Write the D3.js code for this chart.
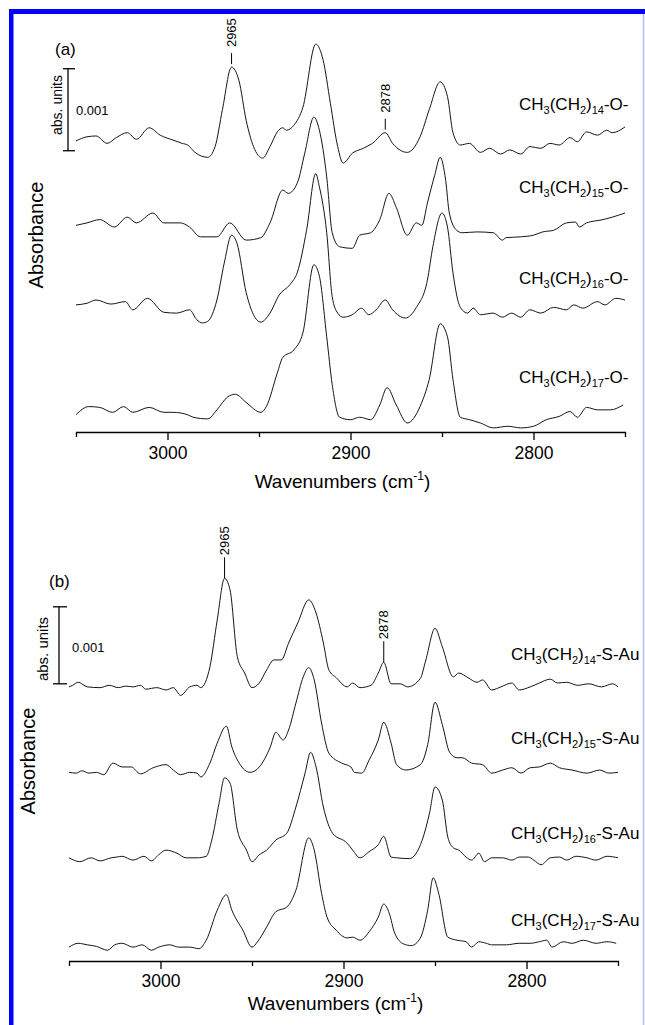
<!DOCTYPE html>
<html><head><meta charset="utf-8">
<script src="https://cdn.jsdelivr.net/npm/d3@7"></script>
<style>html,body{margin:0;padding:0;background:#fff;} svg{display:block;font-family:"Liberation Sans",Arial,Helvetica,sans-serif;}</style>
</head><body><svg id="c" width="645" height="1025"></svg>
<script>
// ---------- data ----------
const xDomain = [3050, 2750];
const majorTicks = [3000, 2900, 2800];
const minorTicks = [2950, 2850];
const chainLengths = ["14", "15", "16", "17"];
const headgroupA = "-O-";
const headgroupB = "-S-Au";
const scaleBarLabel = "0.001";
const xTitle = "Wavenumbers (cm";
const yTitle = "Absorbance";
// vertical offsets of the stacked spectra (units of 0.001 absorbance)
const offsetsA = [3.5, 2.5, 1.5, 0.2];
const offsetsB = [3.55, 2.5, 1.35, 0.2];
// peak annotations: [wavenumber, label]
const peakMarksA = [[2965, "2965"], [2881, "2878"]];
const peakMarksB = [[2965, "2965"], [2878, "2878"]];

// spectra: [wavenumber (cm-1), absorbance (x 0.001)]
const a14 = [[3050,0.05],[3044,0.10],[3039,0.11],[3033,0.02],[3028,0.09],[3022,0.15],[3017,0.07],[3010,0.21],[3004,0.12],[2997,0.06],[2992,0.02],[2989,0.00],[2985,-0.09],[2978,-0.15],[2974,-0.02],[2970,0.43],[2965,0.95],[2961,0.79],[2957,0.30],[2953,-0.02],[2948,-0.16],[2944,-0.02],[2940,0.16],[2937,0.21],[2935,0.18],[2931,0.24],[2926,0.46],[2919,1.23],[2915,1.04],[2911,0.51],[2907,-0.02],[2904,-0.22],[2899,-0.10],[2893,-0.04],[2888,0.02],[2881,0.15],[2877,0.02],[2869,-0.09],[2862,0.10],[2857,0.43],[2851,0.77],[2847,0.59],[2844,0.15],[2840,0.00],[2835,0.02],[2829,-0.09],[2824,-0.04],[2818,-0.11],[2813,-0.06],[2807,-0.11],[2802,-0.02],[2796,-0.04],[2791,0.02],[2786,0.00],[2780,0.09],[2776,0.04],[2771,0.16],[2765,0.12],[2760,0.18],[2757,0.15],[2750,0.22]];
const a15 = [[3050,0.02],[3044,0.05],[3037,0.09],[3029,0.00],[3022,0.12],[3017,0.05],[3008,0.17],[3002,0.05],[2993,0.05],[2988,0.00],[2982,-0.12],[2973,-0.12],[2966,0.05],[2957,-0.16],[2949,-0.13],[2944,0.05],[2937,0.45],[2934,0.41],[2929,0.54],[2925,0.90],[2920,1.34],[2917,1.18],[2913,0.61],[2910,-0.07],[2906,-0.24],[2899,-0.26],[2895,-0.10],[2889,-0.07],[2884,0.09],[2879,0.41],[2875,0.24],[2869,-0.10],[2864,0.05],[2861,0.02],[2858,0.29],[2854,0.63],[2851,0.85],[2848,0.57],[2846,0.17],[2842,-0.04],[2839,-0.07],[2831,-0.06],[2822,-0.07],[2817,-0.16],[2815,-0.13],[2807,-0.12],[2800,-0.10],[2795,-0.06],[2789,-0.04],[2782,0.05],[2777,0.06],[2775,0.00],[2771,0.05],[2762,0.09],[2757,0.12],[2750,0.17]];
const a16 = [[3050,0.05],[3044,0.07],[3039,0.11],[3031,0.06],[3023,0.09],[3019,-0.01],[3011,0.13],[3002,-0.04],[2995,-0.05],[2988,-0.01],[2984,-0.13],[2981,-0.17],[2978,-0.15],[2973,0.11],[2969,0.56],[2965,0.90],[2962,0.80],[2957,0.20],[2949,-0.16],[2944,-0.05],[2939,0.17],[2933,0.30],[2929,0.45],[2924,0.96],[2919,1.65],[2917,1.49],[2913,0.93],[2910,0.15],[2907,-0.05],[2904,-0.10],[2899,-0.07],[2894,0.01],[2890,-0.07],[2886,-0.01],[2881,0.11],[2877,-0.01],[2870,-0.11],[2864,0.02],[2858,0.35],[2855,0.76],[2850,1.17],[2847,1.00],[2844,0.44],[2840,0.02],[2836,-0.05],[2833,0.01],[2829,-0.07],[2822,-0.05],[2817,-0.10],[2812,-0.05],[2807,-0.10],[2802,-0.01],[2796,-0.05],[2789,0.02],[2782,-0.01],[2778,0.05],[2773,0.01],[2765,0.09],[2761,0.05],[2755,0.13],[2750,0.11]];
const a17 = [[3050,0.01],[3043,0.11],[3037,0.10],[3030,0.04],[3024,0.11],[3019,0.04],[3010,0.10],[3002,0.04],[2997,0.04],[2989,0.01],[2986,-0.02],[2978,-0.04],[2973,0.07],[2967,0.23],[2963,0.26],[2957,0.16],[2949,0.04],[2946,0.11],[2940,0.52],[2937,0.71],[2931,0.80],[2926,1.01],[2920,1.84],[2917,1.70],[2913,0.96],[2910,0.38],[2906,-0.02],[2900,-0.05],[2895,-0.02],[2889,-0.05],[2884,0.13],[2880,0.34],[2875,0.13],[2869,-0.09],[2862,0.11],[2857,0.44],[2851,1.12],[2847,0.96],[2844,0.44],[2840,-0.02],[2835,-0.05],[2829,-0.09],[2822,-0.15],[2814,-0.13],[2807,-0.15],[2800,-0.13],[2793,-0.05],[2786,-0.01],[2780,0.05],[2776,-0.02],[2771,0.10],[2765,0.07],[2758,0.07],[2751,0.13]];
const b14 = [[3050,0.01],[3048,0.03],[3045,0.07],[3040,0.01],[3033,0.00],[3028,0.03],[3023,0.00],[3019,0.02],[3015,0.01],[3011,0.03],[3008,-0.02],[3002,0.00],[2997,-0.03],[2993,0.00],[2989,-0.10],[2984,0.01],[2980,0.03],[2978,0.00],[2973,0.27],[2969,0.88],[2965,1.42],[2962,1.27],[2958,0.40],[2954,0.19],[2950,0.00],[2946,0.06],[2942,0.23],[2938,0.36],[2934,0.36],[2930,0.58],[2925,0.84],[2919,1.14],[2915,0.97],[2911,0.58],[2908,0.23],[2904,0.13],[2898,0.01],[2895,0.06],[2891,0.00],[2885,0.03],[2881,0.19],[2878,0.33],[2874,0.05],[2869,0.05],[2865,0.01],[2858,0.12],[2855,0.36],[2850,0.77],[2846,0.53],[2840,0.14],[2837,0.19],[2832,0.13],[2827,0.07],[2824,0.10],[2819,-0.03],[2814,0.01],[2808,0.06],[2804,-0.03],[2798,0.01],[2793,0.06],[2787,0.11],[2783,0.06],[2778,0.07],[2772,0.03],[2766,0.05],[2759,0.01],[2753,0.05],[2750,0.01]];
const b15 = [[3050,-0.05],[3046,-0.06],[3043,-0.03],[3039,-0.06],[3035,-0.05],[3031,-0.08],[3026,0.07],[3021,0.02],[3016,0.02],[3011,-0.07],[3004,0.01],[2997,0.05],[2993,-0.02],[2989,-0.08],[2984,-0.05],[2980,-0.06],[2978,-0.11],[2973,0.07],[2969,0.33],[2964,0.55],[2961,0.28],[2957,0.07],[2951,-0.05],[2946,0.02],[2940,0.28],[2937,0.47],[2933,0.37],[2930,0.50],[2926,0.85],[2922,1.19],[2919,1.31],[2916,1.15],[2912,0.59],[2908,0.20],[2901,0.07],[2896,0.02],[2894,-0.05],[2890,-0.06],[2886,0.11],[2881,0.37],[2878,0.60],[2874,0.33],[2871,0.05],[2866,-0.02],[2858,0.05],[2854,0.31],[2850,0.86],[2846,0.57],[2842,0.21],[2838,0.14],[2835,0.14],[2830,0.07],[2824,0.05],[2819,-0.06],[2813,-0.02],[2808,0.01],[2803,-0.06],[2798,0.01],[2793,0.02],[2787,0.07],[2782,0.01],[2775,-0.02],[2767,-0.06],[2760,-0.02],[2755,-0.06],[2750,-0.05]];
const b16 = [[3050,-0.01],[3044,-0.06],[3038,-0.01],[3033,-0.05],[3027,-0.01],[3024,0.00],[3021,0.01],[3015,-0.04],[3009,0.01],[3005,-0.05],[3001,0.03],[2997,0.09],[2991,0.05],[2986,-0.01],[2980,-0.01],[2975,0.01],[2972,0.22],[2968,0.70],[2965,1.03],[2962,0.96],[2958,0.35],[2953,0.09],[2950,-0.06],[2946,0.03],[2942,0.09],[2937,0.22],[2931,0.31],[2926,0.65],[2921,1.09],[2918,1.36],[2915,1.17],[2911,0.65],[2906,0.31],[2898,0.18],[2895,0.09],[2891,-0.01],[2886,0.07],[2881,0.16],[2878,0.27],[2874,0.00],[2871,-0.01],[2864,-0.02],[2857,0.22],[2853,0.57],[2850,0.91],[2846,0.74],[2843,0.26],[2840,0.12],[2837,0.09],[2833,0.00],[2830,-0.04],[2826,0.05],[2823,-0.06],[2819,-0.01],[2813,-0.01],[2808,-0.04],[2804,0.00],[2799,0.00],[2796,-0.04],[2792,-0.10],[2787,-0.01],[2782,0.00],[2778,-0.04],[2773,0.01],[2767,-0.01],[2762,-0.04],[2756,0.01],[2750,-0.01]];
const b17 = [[3050,-0.02],[3045,0.03],[3040,0.01],[3035,-0.01],[3029,-0.06],[3025,0.01],[3021,0.03],[3015,-0.02],[3010,0.01],[3005,-0.06],[3001,-0.02],[2995,0.01],[2990,-0.02],[2984,-0.02],[2979,-0.04],[2975,0.07],[2969,0.46],[2964,0.66],[2961,0.46],[2955,0.20],[2950,-0.02],[2947,0.05],[2942,0.24],[2937,0.44],[2931,0.50],[2926,0.72],[2919,1.40],[2916,1.24],[2912,0.68],[2909,0.37],[2904,0.20],[2898,0.10],[2895,0.11],[2891,0.07],[2886,0.18],[2881,0.37],[2878,0.54],[2875,0.42],[2872,0.16],[2867,0.02],[2863,0.00],[2858,0.10],[2854,0.46],[2851,0.88],[2848,0.68],[2843,0.11],[2838,0.07],[2833,0.05],[2830,-0.02],[2826,0.05],[2822,0.03],[2819,0.01],[2811,0.01],[2804,0.03],[2798,0.03],[2793,0.05],[2789,0.07],[2786,-0.02],[2780,0.05],[2775,0.03],[2769,0.07],[2762,0.03],[2756,0.05],[2751,0.03]];

// ---------- layout ----------
const panels = [
  {tag:"(a)", tagX:55, tagY:55, xr:[76,625], axisY:432, k:82, offsets:offsetsA,
   traces:[a14,a15,a16,a17], head:headgroupA, labelX:519, labelY:[110,193,284,383],
   marks:peakMarksA, markGap:3, markLen:11, markText:20,
   barX:68, barFrom:-0.07, barCapL:5, barCapR:7, barLabelX:76, barLabelY:115,
   unitsX:62, unitsY:105, unitsFont:14, absX:43, absY:235, tickPad:7, titleY:488},
  {tag:"(b)", tagX:49, tagY:587, xr:[69,618], axisY:961, k:77, offsets:offsetsB,
   traces:[b14,b15,b16,b17], head:headgroupB, labelX:511, labelY:[660,744,839,926],
   marks:peakMarksB, markGap:0, markLen:21, markText:23,
   barX:59, barFrom:0.05, barCapL:6, barCapR:8, barLabelX:72, barLabelY:652,
   unitsX:48, unitsY:649, unitsFont:15, absX:35, absY:761, tickPad:6, titleY:1010}
];

const svg = d3.select("#c");
svg.append("rect").attr("width",645).attr("height",1025).attr("fill","#fff");
// frame
svg.append("rect").attr("x",9).attr("y",9).attr("width",4.5).attr("height",1016).attr("fill","#0000ff");
svg.append("rect").attr("x",9).attr("y",9).attr("width",636).attr("height",5).attr("fill","#0000ff");
svg.append("line").attr("x1",643.5).attr("x2",643.5).attr("y1",14).attr("y2",1025)
   .attr("stroke","#b8b8ff").attr("stroke-width",1.5);

function chemLabel(t, n, head){
  t.append("tspan").text("CH");
  t.append("tspan").attr("font-size",11).attr("dy",4).text("3");
  t.append("tspan").attr("dy",-4).text("(CH");
  t.append("tspan").attr("font-size",11).attr("dy",4).text("2");
  t.append("tspan").attr("dy",-4).text(")");
  t.append("tspan").attr("font-size",11).attr("dy",4).text(n);
  t.append("tspan").attr("dy",-4).text(head);
}

panels.forEach(p => {
  const g = svg.append("g");
  const x = d3.scaleLinear().domain(xDomain).range(p.xr);
  const y = d3.scaleLinear().domain([0,1]).range([p.axisY, p.axisY - p.k]);
  const line = d3.line().x(d => x(d[0])).y(d => y(d[1])).curve(d3.curveMonotoneX);

  p.traces.forEach((tr, i) => {
    const off = p.offsets[i];
    g.append("path").datum(tr.map(d => [d[0], d[1] + off]))
      .attr("d", line).attr("fill","none").attr("stroke","#151515").attr("stroke-width",1);
    const t = g.append("text").attr("x", p.labelX).attr("y", p.labelY[i])
      .attr("font-size",17).attr("fill","#000");
    chemLabel(t, chainLengths[i], p.head);
  });

  // peak annotations on top trace
  p.marks.forEach(m => {
    const tr = p.traces[0];
    const pt = tr.reduce((a,b) => Math.abs(b[0]-m[0]) < Math.abs(a[0]-m[0]) ? b : a);
    const px = x(m[0]);
    const py = y(pt[1] + p.offsets[0]);
    g.append("line").attr("x1",px).attr("x2",px)
      .attr("y1",py - p.markGap).attr("y2",py - p.markGap - p.markLen)
      .attr("stroke","#000").attr("stroke-width",1);
    g.append("text").attr("transform",`translate(${px+4.7},${py - p.markText}) rotate(-90)`)
      .attr("font-size",13).attr("text-anchor","start").text(m[1]);
  });

  // tag
  g.append("text").attr("x",p.tagX).attr("y",p.tagY).attr("font-size",17).text(p.tag);

  // scale bar
  const yb0 = y(p.offsets[0] + p.barFrom), yb1 = y(p.offsets[0] + p.barFrom + 1);
  g.append("line").attr("x1",p.barX).attr("x2",p.barX).attr("y1",yb0).attr("y2",yb1).attr("stroke","#000").attr("stroke-width",1.3);
  [yb0,yb1].forEach(yy => g.append("line").attr("x1",p.barX-p.barCapL).attr("x2",p.barX+p.barCapR)
     .attr("y1",yy).attr("y2",yy).attr("stroke","#000").attr("stroke-width",1.3));
  g.append("text").attr("x",p.barLabelX).attr("y",p.barLabelY).attr("font-size",13).text(scaleBarLabel);
  g.append("text").attr("transform",`translate(${p.unitsX},${p.unitsY}) rotate(-90)`)
    .attr("text-anchor","middle").attr("font-size",p.unitsFont).text("abs. units");

  // y title
  g.append("text").attr("transform",`translate(${p.absX},${p.absY}) rotate(-90)`)
    .attr("text-anchor","middle").attr("font-size",20).text(yTitle);

  // x axis
  const ax = g.append("g").attr("transform",`translate(0,${p.axisY})`)
    .call(d3.axisBottom(x).tickValues(majorTicks).tickSize(8).tickSizeOuter(5)
      .tickPadding(p.tickPad).tickFormat(d3.format("d")));
  ax.selectAll("path,line").attr("stroke","#000").attr("stroke-width",1.3);
  ax.selectAll("text").attr("font-size",17.5).attr("fill","#000")
    .attr("font-family",'"Liberation Sans",Arial,sans-serif');
  const mx = g.append("g").attr("transform",`translate(0,${p.axisY})`)
    .call(d3.axisBottom(x).tickValues(minorTicks).tickSize(5).tickSizeOuter(0).tickFormat(""));
  mx.select(".domain").remove();
  mx.selectAll("line").attr("stroke","#000").attr("stroke-width",1.3);

  // x title
  const xt = g.append("text").attr("x", (p.xr[0]+p.xr[1])/2 - 8).attr("y", p.titleY)
    .attr("text-anchor","middle").attr("font-size",19);
  xt.append("tspan").text(xTitle);
  xt.append("tspan").attr("font-size",12).attr("dy",-8).text("-1");
  xt.append("tspan").attr("dy",8).text(")");
});
</script></body></html>
